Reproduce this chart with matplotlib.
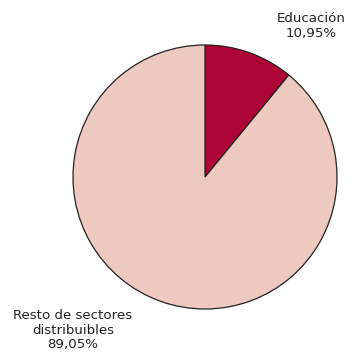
import matplotlib
matplotlib.use("Agg")
import matplotlib.pyplot as plt

# data
sectores = ["Educación", "Resto de sectores\ndistribuibles"]
porcentajes = [10.95, 89.05]
colores = ["#AE0335", "#EEC9C0"]

plt.rcParams['font.family'] = ['DejaVu Sans']

fig = plt.figure(figsize=(3.49, 3.54), dpi=100)
ax = fig.add_axes([0, 0, 1, 1])

# pie, drawn in pixel-like coordinates (y measured from bottom)
ax.pie(porcentajes, colors=colores, startangle=90, counterclock=False,
       center=(205, 177), radius=132, frame=True,
       wedgeprops=dict(edgecolor='#222222', linewidth=0.9))
ax.set_xlim(0, 349)
ax.set_ylim(0, 354)
ax.set_aspect('equal')
ax.axis('off')

def etiqueta(i):
    return f"{sectores[i]}\n{porcentajes[i]:.2f}%".replace(".", ",")

ax.text(311, 354 - 26, etiqueta(0), ha='center', va='center',
        fontsize=9.6, color='#222222', linespacing=1.15)
ax.text(73, 354 - 330, etiqueta(1), ha='center', va='center',
        fontsize=9.6, color='#222222', linespacing=1.12)

fig.savefig("out.png", dpi=100)
